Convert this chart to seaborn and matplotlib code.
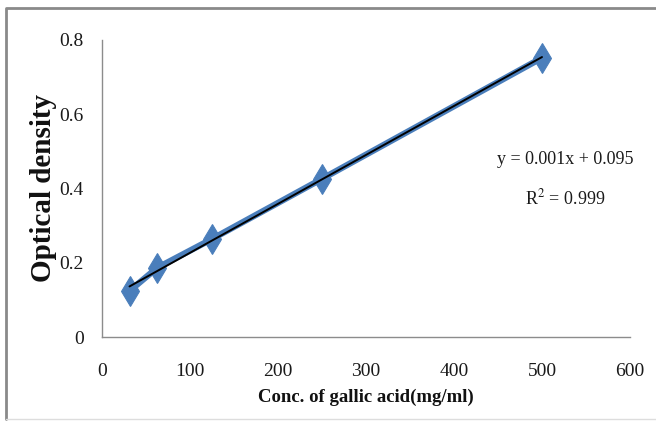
import numpy as np
import seaborn as sns
import matplotlib.pyplot as plt
from matplotlib.lines import Line2D

# gallic acid standard curve
conc = [31.25, 62.5, 125, 250, 500]
od = [0.124, 0.186, 0.264, 0.426, 0.752]
x_ticks = [0, 100, 200, 300, 400, 500, 600]
y_ticks = [0, 0.2, 0.4, 0.6, 0.8]
y_tick_labels = ['0', '0.2', '0.4', '0.6', '0.8']
eq_text = 'y = 0.001x + 0.095'
r2_text = 'R$^2$ = 0.999'

sns.set_style('white')
plt.rcParams['font.family'] = ['Liberation Serif', 'DejaVu Serif']
plt.rcParams['mathtext.fontset'] = 'stix'

fig = plt.figure(figsize=(6.56, 4.21), dpi=100)
ax = fig.add_axes([102 / 656, 1 - 337 / 421, 528 / 656, 297 / 421])

blue = '#4a7ebb'
sns.lineplot(x=conc, y=od, ax=ax, color=blue, lw=4.5, marker='d',
             markersize=15, markeredgecolor=blue, zorder=2)
sns.regplot(x=conc, y=od, ax=ax, scatter=False, ci=None, truncate=True,
            line_kws=dict(color='black', lw=1.4, zorder=3))

ax.set_xlim(0, 600)
ax.set_ylim(0, 0.8)
ax.set_xticks(x_ticks)
ax.set_yticks(y_ticks)
ax.set_yticklabels(y_tick_labels)
ax.tick_params(axis='both', direction='out', length=6, width=1,
               color='#8c8c8c', labelsize=14, pad=7, labelcolor='#1a1a1a')
ax.tick_params(axis='x', pad=13)

for side in ['top', 'right']:
    ax.spines[side].set_visible(False)
for side in ['left', 'bottom']:
    ax.spines[side].set_color('#8c8c8c')
    ax.spines[side].set_linewidth(1)

ax.set_xlabel('Conc. of gallic acid(mg/ml)', fontsize=13.5, fontweight='bold',
              labelpad=6, color='#111111')
ax.set_ylabel('Optical density', fontsize=21, fontweight='bold',
              labelpad=2, color='#111111')

# equation box, placed in axes fraction
ax.text((565 - 102) / 528, (337 - 160) / 297, eq_text, transform=ax.transAxes,
        fontsize=13, ha='center', va='center', color='#1a1a1a')
ax.text((565 - 102) / 528, (337 - 198) / 297, r2_text, transform=ax.transAxes,
        fontsize=13, ha='center', va='center', color='#1a1a1a')

# outer frame of the pasted excel chart (top and left edges)
fig.lines.append(Line2D([6 / 656, 6 / 656, 1.0], [2 / 421, 1 - 8 / 421, 1 - 8 / 421],
                        transform=fig.transFigure, color='#8a8a8a', lw=2))
fig.lines.append(Line2D([6 / 656, 1.0], [2 / 421, 2 / 421],
                        transform=fig.transFigure, color='#dddddd', lw=1))

fig.savefig('out.png', dpi=100)
